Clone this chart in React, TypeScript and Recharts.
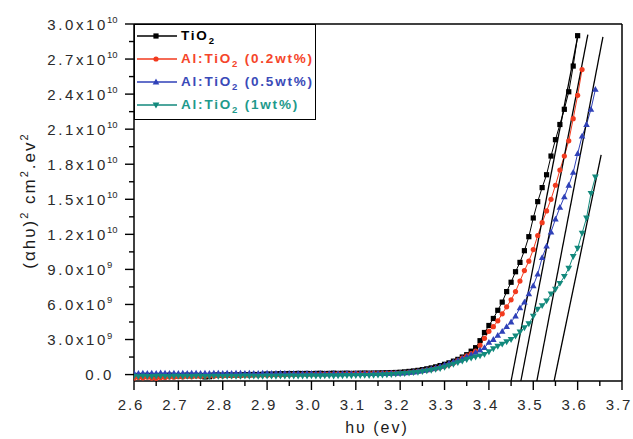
import React from 'react';
import { LineChart, Line, XAxis, YAxis, ReferenceLine } from 'recharts';

// photon energy (eV)
const hv = [
  2.6, 2.61, 2.62, 2.63, 2.64, 2.65, 2.66, 2.67, 2.68, 2.69,
  2.7, 2.71, 2.72, 2.73, 2.74, 2.75, 2.76, 2.77, 2.78, 2.79,
  2.8, 2.81, 2.82, 2.83, 2.84, 2.85, 2.86, 2.87, 2.88, 2.89,
  2.9, 2.91, 2.92, 2.93, 2.94, 2.95, 2.96, 2.97, 2.98, 2.99,
  3.0, 3.01, 3.02, 3.03, 3.04, 3.05, 3.06, 3.07, 3.08, 3.09,
  3.1, 3.11, 3.12, 3.13, 3.14, 3.15, 3.16, 3.17, 3.18, 3.19,
  3.2, 3.21, 3.22, 3.23, 3.24, 3.25, 3.26, 3.27, 3.28, 3.29,
  3.3, 3.31, 3.32, 3.33, 3.34, 3.35, 3.36, 3.37, 3.38, 3.39,
  3.4, 3.41, 3.42, 3.43, 3.44, 3.45, 3.46, 3.47, 3.48, 3.49,
  3.5, 3.51, 3.52, 3.53, 3.54, 3.55, 3.56, 3.57, 3.58, 3.59,
  3.6, 3.61, 3.62, 3.63, 3.64,
];

// (alpha h nu)^2 in units of 1e9
const tio2 = [
  -0.15, -0.1, -0.12, -0.08, -0.1, -0.14, -0.09, -0.11, -0.06, -0.1,
  -0.12, -0.08, -0.05, -0.1, -0.07, -0.09, -0.2, -0.18, -0.05, -0.04,
  -0.06, -0.02, -0.05, -0.03, -0.04, 0, -0.02, 0.01, 0, 0.02,
  0.05, 0.04, 0.06, 0.08, 0.07, 0.09, 0.08, 0.1, 0.09, 0.1,
  0.08, 0.1, 0.11, 0.09, 0.1, 0.12, 0.1, 0.11, 0.12, 0.1,
  0.11, 0.12, 0.13, 0.12, 0.13, 0.14, 0.15, 0.16, 0.17, 0.18,
  0.2, 0.23, 0.27, 0.31, 0.36, 0.42, 0.49, 0.57, 0.66, 0.77,
  0.88, 1.0, 1.15, 1.3, 1.5, 1.7, 2.0, 2.3, 2.9, 3.6,
  4.2, 4.8, 5.5, 6.2, 7.1, 7.9, 8.8, 9.6, 10.6, 11.8,
  13.4, 14.8, 16.0, 17.1, 18.7, 20.1, 21.4, 22.7, 24.2, 26.4,
  29.0, null, null, null, null,
];

const al02 = [
  -0.3, -0.25, -0.28, -0.22, -0.3, -0.32, -0.26, -0.24, -0.2, -0.22,
  -0.18, -0.2, -0.16, -0.18, -0.15, -0.17, -0.14, -0.12, -0.15, -0.1,
  -0.12, -0.09, -0.1, -0.08, -0.1, -0.06, -0.08, -0.05, -0.06, -0.04,
  -0.05, -0.03, -0.02, -0.03, 0, -0.01, 0.01, 0, 0.02, 0.01,
  0.03, 0.02, 0.04, 0.03, 0.05, 0.04, 0.06, 0.05, 0.07, 0.06,
  0.08, 0.07, 0.09, 0.08, 0.1, 0.09, 0.1, 0.11, 0.12, 0.12,
  0.13, 0.15, 0.18, 0.22, 0.27, 0.32, 0.38, 0.45, 0.53, 0.62,
  0.72, 0.85, 1.0, 1.2, 1.4, 1.6, 1.8, 2.0, 2.5, 3.1,
  3.7, 4.1, 4.6, 5.2, 5.8, 6.4, 7.1, 8.0, 8.9, 9.7,
  10.7, 11.9, 13.0, 14.0, 15.0, 16.2, 17.5, 18.7, 20.0, 21.9,
  23.9, 26.1, null, null, null,
];

const al05 = [
  0.12, 0.1, 0.13, 0.11, 0.12, 0.1, 0.14, 0.12, 0.11, 0.13,
  0.1, 0.12, 0.11, 0.13, 0.12, 0.1, 0.12, 0.11, 0.13, 0.12,
  0.1, 0.12, 0.11, 0.12, 0.13, 0.11, 0.12, 0.1, 0.11, 0.13,
  0.12, 0.11, 0.1, 0.12, 0.11, 0.1, 0.09, 0.1, 0.08, 0.09,
  0.1, 0.08, 0.09, 0.07, 0.08, 0.09, 0.07, 0.08, 0.09, 0.08,
  0.09, 0.1, 0.09, 0.1, 0.1, 0.11, 0.11, 0.11, 0.12, 0.12,
  0.13, 0.15, 0.18, 0.22, 0.27, 0.33, 0.4, 0.48, 0.58, 0.7,
  0.83, 0.95, 1.08, 1.22, 1.37, 1.53, 1.7, 1.9, 2.1, 2.3,
  2.75, 3.0, 3.35, 3.7, 4.1, 4.5, 5.0, 5.7, 6.2, 6.9,
  7.6, 8.6, 10.0, 11.0, 12.2, 13.3, 14.3, 15.2, 16.2, 17.3,
  18.9, 20.4, 21.4, 22.7, 24.4,
];

const al1 = [
  -0.15, -0.18, -0.14, -0.16, -0.17, -0.15, -0.14, -0.16, -0.18, -0.15,
  -0.14, -0.17, -0.15, -0.16, -0.14, -0.15, -0.17, -0.16, -0.14, -0.15,
  -0.16, -0.15, -0.14, -0.16, -0.15, -0.13, -0.15, -0.14, -0.16, -0.15,
  -0.13, -0.14, -0.15, -0.13, -0.14, -0.12, -0.13, -0.14, -0.12, -0.13,
  -0.11, -0.12, -0.13, -0.11, -0.1, -0.12, -0.1, -0.11, -0.09, -0.1,
  -0.08, -0.09, -0.07, -0.08, -0.06, -0.05, -0.04, -0.02, 0.0, 0.03,
  0.06, 0.09, 0.12, 0.16, 0.2, 0.25, 0.31, 0.37, 0.44, 0.52,
  0.62, 0.75, 0.88, 1.02, 1.15, 1.28, 1.4, 1.5, 1.6, 1.72,
  1.95, 2.2, 2.42, 2.6, 2.8, 3.0, 3.3, 3.65, 4.0, 4.35,
  5.0, 5.6, 5.9, 6.3, 6.9, 7.3, 7.8, 8.4, 9.1, 10.1,
  10.8, 12.1, 13.4, 15.5, 16.9,
];

// linear-fit (Tauc extrapolation) lines: end points
const fitTio2 = [{ x: 3.45, y: -0.55 }, { x: 3.601, y: 29.1 }];
const fitAl02 = [{ x: 3.472, y: -0.55 }, { x: 3.623, y: 29.1 }];
const fitAl05 = [{ x: 3.508, y: -0.55 }, { x: 3.657, y: 28.9 }];
const fitAl1 = [{ x: 3.547, y: -0.55 }, { x: 3.653, y: 18.8 }];

// axis ticks
const xTicks = [2.6, 2.65, 2.7, 2.75, 2.8, 2.85, 2.9, 2.95, 3.0, 3.05, 3.1, 3.15, 3.2, 3.25, 3.3, 3.35, 3.4, 3.45, 3.5, 3.55, 3.6, 3.65, 3.7];
const xMajor = [2.6, 2.7, 2.8, 2.9, 3.0, 3.1, 3.2, 3.3, 3.4, 3.5, 3.6, 3.7];
const xLabels = ['2.6', '2.7', '2.8', '2.9', '3.0', '3.1', '3.2', '3.3', '3.4', '3.5', '3.6', '3.7'];
const yTicks = [0, 1.5, 3, 4.5, 6, 7.5, 9, 10.5, 12, 13.5, 15, 16.5, 18, 19.5, 21, 22.5, 24, 25.5, 27, 28.5, 30];
const yMajor = [0, 3, 6, 9, 12, 15, 18, 21, 24, 27, 30];
const yMantissa = ['0.0', '3.0x10', '6.0x10', '9.0x10', '1.2x10', '1.5x10', '1.8x10', '2.1x10', '2.4x10', '2.7x10', '3.0x10'];
const yExponent = ['', '9', '9', '9', '10', '10', '10', '10', '10', '10', '10'];

// legend
const seriesBase = ['TiO', 'Al:TiO', 'Al:TiO', 'Al:TiO'];
const seriesSuffix = ['', ' (0.2wt%)', ' (0.5wt%)', ' (1wt%)'];
const seriesColors = ['#000000', '#f23a1e', '#2f41b8', '#12897c'];
const textColors = ['#000000', '#f5452a', '#3a4ab8', '#1f9a8c'];
const markerKinds = ['square', 'circle', 'up', 'down'];

const rows = hv.map((x, i) => ({ x, tio2: tio2[i], al02: al02[i], al05: al05[i], al1: al1[i] }));

const FONT = '"Liberation Sans", Arial, sans-serif';

function Marker({ kind, cx, cy, color }: { kind: string; cx: number; cy: number; color: string }) {
  if (kind === 'square') return <rect x={cx - 2.6} y={cy - 2.6} width={5.2} height={5.2} fill={color} />;
  if (kind === 'circle') return <circle cx={cx} cy={cy} r={2.6} fill={color} />;
  if (kind === 'up') return <path d={`M${cx},${cy - 3.4}L${cx + 3.3},${cy + 2.4}L${cx - 3.3},${cy + 2.4}Z`} fill={color} />;
  return <path d={`M${cx},${cy + 3.4}L${cx + 3.4},${cy - 2.5}L${cx - 3.4},${cy - 2.5}Z`} fill={color} />;
}

const makeDot = (kind: string, color: string) => (p: any) => {
  const { cx, cy, index } = p;
  if (cx == null || cy == null || Number.isNaN(cy) || p.value == null) return <g key={`${kind}${index}`} />;
  return (
    <g key={`${kind}${index}`}>
      <Marker kind={kind} cx={cx} cy={cy} color={color} />
    </g>
  );
};

const XTick = (p: any) => {
  const { x, y, payload } = p;
  const i = xMajor.indexOf(payload.value);
  if (i < 0) return <line x1={x} x2={x} y1={y} y2={y + 5} stroke="#000" strokeWidth={1.4} />;
  return (
    <g>
      <line x1={x} x2={x} y1={y} y2={y + 9} stroke="#000" strokeWidth={1.4} />
      <text x={x - 3} y={y + 29} textAnchor="middle" fontSize={15} letterSpacing={1.8} fill="#2a2a2a" fontFamily={FONT}>
        {xLabels[i]}
      </text>
    </g>
  );
};

const YTick = (p: any) => {
  const { x, y, payload } = p;
  const i = yMajor.indexOf(payload.value);
  if (i < 0) return <line x1={x} x2={x - 5} y1={y} y2={y} stroke="#000" strokeWidth={1.4} />;
  const exp = yExponent[i];
  return (
    <g>
      <line x1={x} x2={x - 9} y1={y} y2={y} stroke="#000" strokeWidth={1.4} />
      <text x={exp ? x - 26 : x - 20} y={y + 5.5} textAnchor="end" fontSize={15} letterSpacing={2.6} fill="#2a2a2a" fontFamily={FONT}>
        {yMantissa[i]}
      </text>
      {exp && (
        <text x={x - 27} y={y - 1} textAnchor="start" fontSize={9.5} fill="#2a2a2a" fontFamily={FONT}>
          {exp}
        </text>
      )}
    </g>
  );
};

const YLabel = (p: any) => {
  const vb = p.viewBox || { x: 0, y: 24, width: 134, height: 357 };
  const cx = vb.x + 35;
  const cy = vb.y + vb.height / 2 - 2;
  return (
    <text
      x={cx}
      y={cy}
      transform={`rotate(-90 ${cx} ${cy})`}
      textAnchor="middle"
      fontSize={17}
      letterSpacing={2}
      fill="#1a1a1a"
      fontFamily={FONT}
    >
      <tspan>(αhυ)</tspan>
      <tspan dy={-7} fontSize={11}>2</tspan>
      <tspan dy={7}> cm</tspan>
      <tspan dy={-7} fontSize={11}>2</tspan>
      <tspan dy={7}>.ev</tspan>
      <tspan dy={-7} fontSize={11}>2</tspan>
    </text>
  );
};

const XLabel = (p: any) => {
  const vb = p.viewBox || { x: 134, y: 381, width: 488, height: 58 };
  const cx = vb.x + vb.width / 2 - 1;
  return (
    <text x={cx} y={vb.y + 52} textAnchor="middle" fontSize={16} letterSpacing={2} fill="#1a1a1a" fontFamily={FONT}>
      hυ (ev)
    </text>
  );
};

function LegendBox() {
  return (
    <div
      style={{
        position: 'absolute',
        left: 134,
        top: 24,
        width: 182,
        height: 96,
        boxSizing: 'border-box',
        border: '1.5px solid #000',
        background: '#fff',
        fontFamily: FONT,
      }}
    >
      {seriesBase.map((b, i) => (
        <div
          key={i}
          style={{
            position: 'absolute',
            left: 0,
            top: 1 + i * 23,
            height: 20,
            display: 'flex',
            alignItems: 'center',
            whiteSpace: 'nowrap',
          }}
        >
          <svg width={46} height={20} style={{ display: 'block' }}>
            <line x1={2} x2={42} y1={10} y2={10} stroke={seriesColors[i]} strokeWidth={1.3} />
            <Marker kind={markerKinds[i]} cx={21} cy={10} color={seriesColors[i]} />
          </svg>
          <span style={{ fontSize: 13.5, fontWeight: 'bold', letterSpacing: 1.8, color: textColors[i], lineHeight: '20px' }}>
            {b}
            <sub style={{ fontSize: 9.5, verticalAlign: -4, lineHeight: 0 }}>2</sub>
            {seriesSuffix[i]}
          </span>
        </div>
      ))}
    </div>
  );
}

export default function App() {
  return (
    <div style={{ position: 'absolute', left: 0, top: 0, width: 633, height: 439, background: '#fff' }}>
      <LineChart
        width={633}
        height={439}
        data={rows}
        margin={{ top: 24, right: 11, bottom: 0, left: 0 }}
        style={{ fontFamily: FONT }}
      >
        <XAxis
          dataKey="x"
          type="number"
          domain={[2.6, 3.7]}
          allowDataOverflow
          ticks={xTicks}
          interval={0}
          tick={<XTick />}
          tickLine={false}
          tickSize={0}
          tickMargin={0}
          height={58}
          axisLine={{ stroke: '#000', strokeWidth: 1.5 }}
          label={<XLabel />}
        />
        <YAxis
          type="number"
          domain={[-0.55, 30]}
          allowDataOverflow
          ticks={yTicks}
          interval={0}
          tick={<YTick />}
          tickLine={false}
          tickSize={0}
          tickMargin={0}
          width={134}
          axisLine={{ stroke: '#000', strokeWidth: 1.5 }}
          label={<YLabel />}
        />
        <ReferenceLine y={30} stroke="#000" strokeWidth={1.5} />
        <ReferenceLine x={3.7} stroke="#000" strokeWidth={1.5} />
        <Line dataKey="tio2" stroke={seriesColors[0]} strokeWidth={1} dot={makeDot('square', seriesColors[0])} activeDot={false} isAnimationActive={false} />
        <Line dataKey="al02" stroke={seriesColors[1]} strokeWidth={1} dot={makeDot('circle', seriesColors[1])} activeDot={false} isAnimationActive={false} />
        <Line dataKey="al05" stroke={seriesColors[2]} strokeWidth={1} dot={makeDot('up', seriesColors[2])} activeDot={false} isAnimationActive={false} />
        <Line dataKey="al1" stroke={seriesColors[3]} strokeWidth={1} dot={makeDot('down', seriesColors[3])} activeDot={false} isAnimationActive={false} />
        <Line data={fitTio2} dataKey="y" stroke="#000" strokeWidth={1.3} dot={false} activeDot={false} legendType="none" isAnimationActive={false} />
        <Line data={fitAl02} dataKey="y" stroke="#000" strokeWidth={1.3} dot={false} activeDot={false} legendType="none" isAnimationActive={false} />
        <Line data={fitAl05} dataKey="y" stroke="#000" strokeWidth={1.3} dot={false} activeDot={false} legendType="none" isAnimationActive={false} />
        <Line data={fitAl1} dataKey="y" stroke="#000" strokeWidth={1.3} dot={false} activeDot={false} legendType="none" isAnimationActive={false} />
      </LineChart>
      <LegendBox />
    </div>
  );
}
